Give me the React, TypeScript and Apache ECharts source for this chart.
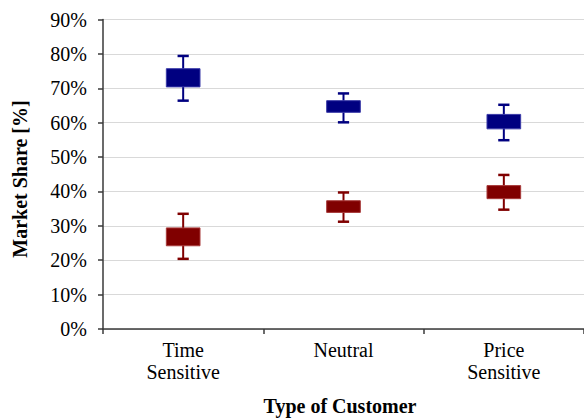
import React, { useEffect, useRef } from "react";
import * as echarts from "echarts";

const categories = ["Time\nSensitive", "Neutral", "Price\nSensitive"];
const yTicks = [0, 10, 20, 30, 40, 50, 60, 70, 80, 90];

// Blue (upper) group: whisker low, box low, box high, whisker high (in %)
const blueWhiskerLow = [66.4, 60.1, 54.9];
const blueBoxLow = [70.4, 63.0, 58.2];
const blueBoxHigh = [75.7, 66.4, 62.4];
const blueWhiskerHigh = [79.4, 68.5, 65.2];

// Red (lower) group
const redWhiskerLow = [20.4, 31.2, 34.7];
const redBoxLow = [24.2, 33.9, 37.9];
const redBoxHigh = [29.4, 37.3, 41.7];
const redWhiskerHigh = [33.5, 39.7, 44.8];

const FONT = "'Liberation Serif', 'Times New Roman', serif";

function makeRender(color: string, border: string) {
  return (params: any, api: any) => {
    const x = api.value(0);
    const pLow = api.coord([x, api.value(1)]);
    const pQ1 = api.coord([x, api.value(2)]);
    const pQ3 = api.coord([x, api.value(3)]);
    const pHigh = api.coord([x, api.value(4)]);
    const band = api.size([1, 0])[0];
    const bw = band * 0.21;
    const cw = band * 0.07;
    const cx = pLow[0];
    return {
      type: "group",
      children: [
        {
          type: "line",
          shape: { x1: cx, y1: pHigh[1], x2: cx, y2: pLow[1] },
          style: { stroke: color, lineWidth: 2 },
        },
        {
          type: "line",
          shape: { x1: cx - cw / 2, y1: pHigh[1], x2: cx + cw / 2, y2: pHigh[1] },
          style: { stroke: color, lineWidth: 2.5 },
        },
        {
          type: "line",
          shape: { x1: cx - cw / 2, y1: pLow[1], x2: cx + cw / 2, y2: pLow[1] },
          style: { stroke: color, lineWidth: 2.5 },
        },
        {
          type: "rect",
          shape: { x: cx - bw / 2, y: pQ3[1], width: bw, height: pQ1[1] - pQ3[1] },
          style: { fill: color, stroke: border, lineWidth: 1 },
        },
      ],
    };
  };
}

export default function App() {
  const ref = useRef<HTMLDivElement>(null);
  useEffect(() => {
    if (!ref.current) return;
    const chart = echarts.init(ref.current, null, { renderer: "svg" });
    const blueData = categories.map((_, i) => [i, blueWhiskerLow[i], blueBoxLow[i], blueBoxHigh[i], blueWhiskerHigh[i]]);
    const redData = categories.map((_, i) => [i, redWhiskerLow[i], redBoxLow[i], redBoxHigh[i], redWhiskerHigh[i]]);
    chart.setOption({
      animation: false,
      backgroundColor: "#ffffff",
      grid: { left: 103, top: 19.5, width: 484.5, height: 309.5, containLabel: false },
      xAxis: {
        type: "category",
        data: categories,
        boundaryGap: true,
        axisLine: { show: true, lineStyle: { color: "#3a3a3a", width: 1.5 } },
        axisTick: { show: true, length: 5, alignWithLabel: false, lineStyle: { color: "#3a3a3a", width: 1.5 } },
        axisLabel: { margin: 10, fontFamily: FONT, fontSize: 20, color: "#000", lineHeight: 22, interval: 0 },
        splitLine: { show: false },
      },
      yAxis: {
        type: "value",
        min: 0,
        max: 90,
        interval: 10,
        axisLine: { show: true, lineStyle: { color: "#3a3a3a", width: 1.5 } },
        axisTick: { show: true, length: 5, lineStyle: { color: "#3a3a3a", width: 1.5 } },
        axisLabel: {
          margin: 16,
          fontFamily: FONT,
          fontSize: 20,
          color: "#000",
          formatter: (v: number) => (yTicks.includes(v) ? v + "%" : ""),
        },
        splitLine: { show: true, lineStyle: { color: "#d9d9d9", width: 1.2 } },
      },
      graphic: [
        {
          type: "text",
          x: 20,
          y: 179,
          rotation: Math.PI / 2,
          style: {
            text: "Market Share [%]",
            font: `bold 20px ${FONT}`,
            fill: "#000",
            textAlign: "center",
            textVerticalAlign: "middle",
          },
        },
        {
          type: "text",
          x: 340,
          y: 406,
          style: {
            text: "Type of Customer",
            font: `bold 20px ${FONT}`,
            fill: "#000",
            textAlign: "center",
            textVerticalAlign: "middle",
          },
        },
      ],
      series: [
        {
          type: "custom",
          name: "Upper",
          renderItem: makeRender("#000080", "#3b3ba8"),
          encode: { x: 0, y: [1, 2, 3, 4] },
          data: blueData,
          z: 5,
        },
        {
          type: "custom",
          name: "Lower",
          renderItem: makeRender("#800000", "#a83b3b"),
          encode: { x: 0, y: [1, 2, 3, 4] },
          data: redData,
          z: 5,
        },
      ],
    });
    return () => chart.dispose();
  }, []);
  return (
    <div
      ref={ref}
      style={{ position: "absolute", left: 0, top: 0, width: 584, height: 418, background: "#fff" }}
    />
  );
}
